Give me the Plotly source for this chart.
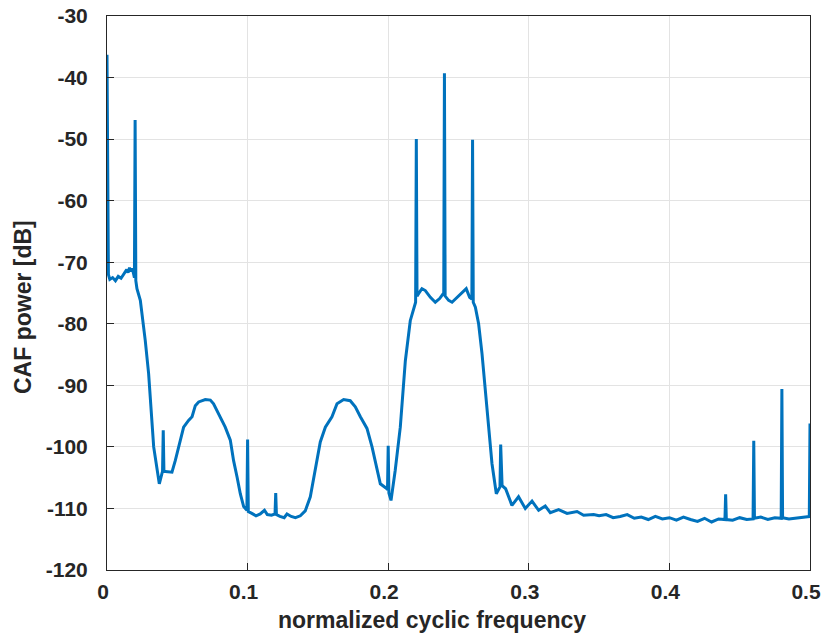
import plotly.graph_objects as go

# normalized cyclic frequency
x_vals = [
    0.0, 0.001, 0.002, 0.004, 0.006, 0.008, 0.010, 0.012, 0.014, 0.015, 0.016, 0.017, 0.018, 0.019, 0.0195,
    0.020, 0.0205, 0.0213, 0.0237, 0.0272, 0.0296, 0.0332, 0.0367, 0.0372, 0.0391, 0.0395,
    0.040, 0.0405, 0.0415, 0.0438, 0.0462, 0.0486, 0.0509, 0.0545, 0.058, 0.0605, 0.0628, 0.0652,
    0.0699, 0.0735, 0.0758, 0.0782, 0.0806, 0.0841, 0.0877, 0.090, 0.0925, 0.0948, 0.0972, 0.0995,
    0.100, 0.1005, 0.103, 0.106, 0.109, 0.112, 0.114, 0.117, 0.1195,
    0.120, 0.1205, 0.123, 0.126, 0.128, 0.131, 0.134, 0.1375, 0.141, 0.1446, 0.1482, 0.1517,
    0.1553, 0.160, 0.1636, 0.1683, 0.173, 0.1766, 0.1802, 0.1849, 0.1885, 0.192, 0.1944, 0.1991, 0.1995,
    0.200, 0.2005, 0.202, 0.205, 0.2086, 0.2122, 0.2157, 0.2181, 0.2195,
    0.220, 0.2205, 0.2216, 0.224, 0.2264, 0.230, 0.2335, 0.2366, 0.2395,
    0.240, 0.2405, 0.243, 0.2454, 0.2489, 0.2525, 0.2555, 0.2579, 0.2595,
    0.260, 0.2605, 0.262, 0.2643, 0.2667, 0.2703, 0.2738, 0.2769, 0.2785, 0.2795,
    0.280, 0.2805, 0.281, 0.2835, 0.288, 0.2927, 0.2975, 0.3023, 0.307, 0.3117, 0.3153, 0.3212,
    0.3272, 0.3343, 0.339, 0.3461, 0.350, 0.355, 0.360, 0.365, 0.370, 0.375, 0.380, 0.385, 0.390,
    0.395, 0.400, 0.405, 0.410, 0.415, 0.420, 0.425, 0.430, 0.435, 0.4395,
    0.440, 0.4405, 0.445, 0.450, 0.455, 0.4595,
    0.460, 0.4605, 0.465, 0.470, 0.475, 0.4795,
    0.480, 0.4805, 0.485, 0.490, 0.495, 0.4995, 0.500,
]

# CAF power [dB]
y_vals = [
    -36.3, -72.0, -72.8, -72.5, -73.0, -72.3, -72.6, -71.8, -71.2, -71.7, -70.9, -71.5, -71.0, -72.0, -72.5,
    -46.9, -73.0, -74.3, -76.2, -82.7, -88.1, -100.0, -105.7, -106.0, -104.3, -104.0,
    -97.3, -104.0, -104.0, -104.1, -104.1, -102.2, -100.0, -96.8, -95.7, -95.1, -93.3, -92.7,
    -92.3, -92.4, -93.0, -94.1, -95.4, -96.8, -98.9, -102.2, -104.9, -107.6, -109.7, -110.3,
    -98.8, -110.5, -110.8, -111.2, -110.9, -110.3, -111.0, -111.1, -110.9,
    -107.5, -111.0, -111.3, -111.5, -110.9, -111.3, -111.5, -111.2, -110.4, -108.1, -103.3, -99.2,
    -96.8, -95.1, -93.0, -92.3, -92.5, -93.5, -95.1, -97.0, -100.0, -103.8, -106.0, -106.8, -107.0,
    -99.8, -107.5, -108.7, -103.8, -96.8, -86.0, -79.5, -77.5, -76.5,
    -50.0, -75.5, -75.1, -74.3, -74.6, -75.7, -76.5, -75.9, -75.0,
    -39.3, -75.5, -76.2, -76.5, -75.7, -74.9, -74.3, -75.7, -76.0,
    -50.1, -76.5, -77.3, -80.0, -84.8, -94.1, -102.7, -107.6, -107.0, -106.5,
    -99.6, -105.5, -106.3, -106.8, -109.5, -108.1, -110.0, -108.8, -110.3, -109.6, -110.7, -110.2,
    -110.8, -110.5, -111.1, -111.0, -111.2, -111.0, -111.5, -111.3, -111.0, -111.6, -111.4, -111.8, -111.3,
    -111.7, -111.5, -111.9, -111.4, -111.8, -112.1, -111.6, -112.2, -111.7, -111.8,
    -107.7, -111.8, -111.9, -111.5, -111.8, -111.7,
    -99.0, -111.6, -111.4, -111.8, -111.5, -111.6,
    -90.6, -111.5, -111.7, -111.6, -111.4, -111.3, -96.2,
]

x_ticks = [0, 0.1, 0.2, 0.3, 0.4, 0.5]
x_tick_text = ["0", "0.1", "0.2", "0.3", "0.4", "0.5"]
y_ticks = [-120, -110, -100, -90, -80, -70, -60, -50, -40, -30]
y_tick_text = [str(v) for v in y_ticks]

AX = "#262626"
FONT = "Liberation Sans, Arial, Helvetica, sans-serif"

fig = go.Figure()
fig.add_trace(go.Scatter(
    x=x_vals, y=y_vals, mode="lines",
    line=dict(color="#0072BD", width=3),
    showlegend=False, hoverinfo="skip",
))

axis_common = dict(
    showline=True, linecolor=AX, linewidth=1, mirror=True,
    ticks="inside", ticklen=7, tickcolor=AX, tickwidth=1,
    showgrid=True, gridcolor="#e3e3e3", gridwidth=1,
    zeroline=False, automargin=False,
    tickfont=dict(family=FONT, size=21, color=AX, weight="bold"),
)

fig.update_xaxes(range=[0, 0.5], tickvals=x_ticks, ticktext=x_tick_text,
                 ticklabelstandoff=3, ticklabelshift=-4, **axis_common)
fig.update_yaxes(range=[-120, -30], tickvals=y_ticks, ticktext=y_tick_text,
                 ticklabelstandoff=14, **axis_common)

fig.add_annotation(text="<b>normalized cyclic frequency</b>", xref="paper", yref="paper",
                   x=0.463, y=-0.1173, xanchor="center", yanchor="bottom", showarrow=False,
                   font=dict(family=FONT, size=23, color=AX))
fig.add_annotation(text="<b>CAF power [dB]</b>", xref="paper", yref="paper",
                   x=-0.1195, y=0.4747, xanchor="center", yanchor="middle", showarrow=False,
                   textangle=-90, font=dict(family=FONT, size=23, color=AX))

fig.update_layout(
    width=822, height=635,
    margin=dict(l=107, r=12, t=16, b=65),
    paper_bgcolor="white", plot_bgcolor="white",
)

fig.write_html("out.html")
